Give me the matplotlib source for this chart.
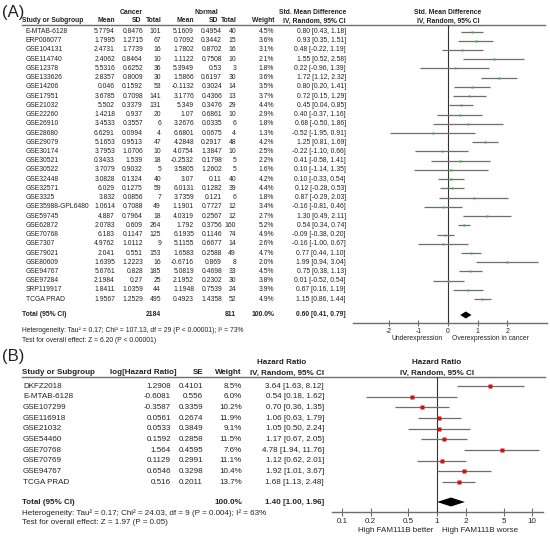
import matplotlib.pyplot as plt
from matplotlib.ticker import NullLocator, FixedLocator, FixedFormatter

plt.rcParams['font.family'] = ['Liberation Sans', 'DejaVu Sans']

# --- panel A data ---
names_a = ['E-MTAB-6128', 'ERP006077', 'GSE104131', 'GSE114740', 'GSE12378', 'GSE133626',
           'GSE14206', 'GSE17951', 'GSE21032', 'GSE22260', 'GSE26910', 'GSE28680',
           'GSE29079', 'GSE30174', 'GSE30521', 'GSE30522', 'GSE32448', 'GSE32571',
           'GSE3325', 'GSE35988-GPL6480', 'GSE59745', 'GSE62872', 'GSE70768', 'GSE7307',
           'GSE79021', 'GSE80609', 'GSE94767', 'GSE97284', 'SRP119917', 'TCGA PRAD']
ca_mean = [5.7794, 1.7995, 2.4731, 2.4062, 5.5316, 2.8357, 0.046, 3.6785, 5.502, 1.4218,
           3.4533, 6.6291, 5.1653, 3.7953, 0.3433, 3.7079, 3.0828, 6.029, 3.832, 1.0614,
           4.887, 2.0783, 6.183, 4.9762, 2.041, 1.6395, 5.6761, 2.1984, 1.8411, 1.9567]
ca_sd = [0.8476, 1.2715, 1.7739, 0.8464, 0.6252, 0.8009, 0.1592, 0.7098, 0.3379, 0.937,
         0.3557, 0.0994, 0.9513, 1.0706, 1.539, 0.9032, 0.1324, 0.1275, 0.0856, 0.7088,
         0.7964, 0.609, 0.1147, 1.0112, 0.551, 1.2223, 0.828, 0.27, 1.0359, 1.2529]
ca_n = [101, 67, 16, 10, 36, 30, 53, 141, 131, 20, 6, 4, 47, 10, 18, 5, 40, 59, 7, 49,
        18, 264, 125, 9, 153, 16, 185, 25, 44, 495]
no_mean = [5.1609, 0.7092, 1.7802, 1.1122, 5.3949, 1.5866, -0.1132, 3.1776, 5.349, 1.07,
           3.2676, 6.6801, 4.2848, 4.0754, -0.2532, 3.5805, 3.07, 6.0131, 3.7359, 1.1901,
           4.0319, 1.792, 6.1935, 5.1155, 1.6583, -0.6716, 5.0819, 2.1952, 1.1948, 0.4923]
no_sd = [0.4954, 0.3442, 0.8702, 0.7508, 0.53, 0.6197, 0.3024, 0.4366, 0.3476, 0.6861,
         0.0335, 0.0675, 0.2917, 1.3847, 0.1798, 1.2602, 0.11, 0.1282, 0.121, 0.7727,
         0.2567, 0.3756, 0.1146, 0.6677, 0.2588, 0.869, 0.4698, 0.2302, 0.7539, 1.4358]
no_n = [40, 15, 16, 10, 3, 30, 14, 13, 29, 10, 6, 4, 48, 10, 5, 5, 40, 39, 6, 12,
        12, 160, 74, 14, 49, 8, 33, 30, 24, 52]
w_a = [4.5, 3.6, 3.1, 2.1, 1.8, 3.6, 3.5, 3.7, 4.4, 2.9, 1.8, 1.3, 4.2, 2.5, 2.2, 1.6,
       4.2, 4.4, 1.8, 3.4, 2.7, 5.2, 4.9, 2.6, 4.7, 2.0, 4.5, 3.8, 3.9, 4.9]
smd = [0.80, 0.93, 0.48, 1.55, 0.22, 1.72, 0.80, 0.72, 0.45, 0.40, 0.68, -0.52, 1.25,
       -0.22, 0.41, 0.10, 0.10, 0.12, 0.87, -0.16, 1.30, 0.54, -0.09, -0.16, 0.77, 1.99,
       0.75, 0.01, 0.67, 1.15]
smd_lo = [0.43, 0.35, -0.22, 0.52, -0.96, 1.12, 0.20, 0.15, 0.04, -0.37, -0.50, -1.95, 0.81,
          -1.10, -0.58, -1.14, -0.33, -0.28, -0.29, -0.81, 0.49, 0.34, -0.38, -1.00, 0.44,
          0.94, 0.38, -0.52, 0.16, 0.86]
smd_hi = [1.18, 1.51, 1.19, 2.58, 1.39, 2.32, 1.41, 1.29, 0.85, 1.16, 1.86, 0.91, 1.69,
          0.66, 1.41, 1.35, 0.54, 0.53, 2.03, 0.46, 2.11, 0.74, 0.20, 0.67, 1.10, 3.04,
          1.13, 0.54, 1.19, 1.44]
tot_a = (0.60, 0.41, 0.79)
tot_n_a = (2184, 811)
het_a = 'Heterogeneity: Tau² = 0.17; Chi² = 107.13, df = 29 (P < 0.00001); I² = 73%'
z_a = 'Test for overall effect: Z = 6.20 (P < 0.00001)'
ticks_a = [-2, -1, 0, 1, 2]

# --- panel B data ---
names_b = ['DKFZ2018', 'E-MTAB-6128', 'GSE107299', 'GSE116918', 'GSE21032', 'GSE54460',
           'GSE70768', 'GSE70769', 'GSE94767', 'TCGA PRAD']
loghr = [1.2908, -0.6081, -0.3587, 0.0561, 0.0533, 0.1592, 1.564, 0.1129, 0.6546, 0.516]
se = [0.4101, 0.556, 0.3359, 0.2674, 0.3849, 0.2858, 0.4595, 0.2991, 0.3298, 0.2011]
w_b = [8.5, 6.0, 10.2, 11.9, 9.1, 11.5, 7.6, 11.1, 10.4, 13.7]
hr = [3.64, 0.54, 0.70, 1.06, 1.05, 1.17, 4.78, 1.12, 1.92, 1.68]
hr_lo = [1.63, 0.18, 0.36, 0.63, 0.50, 0.67, 1.94, 0.62, 1.01, 1.13]
hr_hi = [8.12, 1.62, 1.35, 1.79, 2.24, 2.05, 11.76, 2.01, 3.67, 2.48]
tot_b = (1.40, 1.00, 1.96)
het_b = 'Heterogeneity: Tau² = 0.17; Chi² = 24.03, df = 9 (P = 0.004); I² = 63%'
z_b = 'Test for overall effect: Z = 1.97 (P = 0.05)'
ticks_b = [0.1, 0.2, 0.5, 1, 2, 5, 10]

W, H = 550, 539
TXT = '#222222'
LINE = '#6e6e6e'

fig = plt.figure(figsize=(W / 100, H / 100), dpi=100)
bg = fig.add_axes([0, 0, 1, 1])
bg.set_xlim(0, W)
bg.set_ylim(H, 0)
bg.axis('off')


def px_axes(x0, x1, y0, y1):
    return fig.add_axes([x0 / W, 1 - y1 / H, (x1 - x0) / W, (y1 - y0) / H])


def t(x, y, s, fs, ha='right', bold=False, **kw):
    bg.text(x, y, s, fontsize=fs, ha=ha, va='center', color=TXT,
            fontweight='bold' if bold else 'normal', **kw)


# ================= panel A =================
FA = 4.9
a_y0, a_dy = 31.5, 9.23
a_rows = [a_y0 + i * a_dy for i in range(len(names_a))]
a_tot_y = 315
a_axis_y = 323

t(2, 13, '(A)', 12, ha='left')
t(131, 12, 'Cancer', FA, ha='center', bold=True)
t(206, 12, 'Normal', FA, ha='center', bold=True)
t(313, 12, 'Std. Mean Difference', FA, ha='center', bold=True)
t(448, 12, 'Std. Mean Difference', FA, ha='center', bold=True)
hdr = [(22, 'Study or Subgroup', 'left'), (115, 'Mean', 'right'), (141, 'SD', 'right'),
       (162, 'Total', 'right'), (194, 'Mean', 'right'), (218, 'SD', 'right'),
       (237, 'Total', 'right'), (274, 'Weight', 'right'), (314, 'IV, Random, 95% CI', 'center'),
       (448, 'IV, Random, 95% CI', 'center')]
for x, s, ha in hdr:
    t(x, 21, s, FA, ha=ha, bold=True)
bg.plot([22, 545], [24.5, 24.5], color=LINE, lw=1)

for i, y in enumerate(a_rows):
    t(26, y, names_a[i], FA, ha='left')
    t(115, y, str(ca_mean[i]), FA)
    t(143, y, str(ca_sd[i]), FA)
    t(161, y, str(ca_n[i]), FA)
    t(194, y, str(no_mean[i]), FA)
    t(222, y, str(no_sd[i]), FA)
    t(236, y, str(no_n[i]), FA)
    t(274, y, f'{w_a[i]:.1f}%', FA)
    t(346, y, f'{smd[i]:.2f} [{smd_lo[i]:.2f}, {smd_hi[i]:.2f}]', FA)

t(22, a_tot_y, 'Total (95% CI)', FA, ha='left', bold=True)
t(161, a_tot_y, str(tot_n_a[0]), FA, bold=True)
t(236, a_tot_y, str(tot_n_a[1]), FA, bold=True)
t(274, a_tot_y, '100.0%', FA, bold=True)
t(346, a_tot_y, f'{tot_a[0]:.2f} [{tot_a[1]:.2f}, {tot_a[2]:.2f}]', FA, bold=True)
t(22, 330, het_a, FA, ha='left')
t(22, 340, z_a, FA, ha='left')
t(443, 339, 'Underexpression', FA, ha='right')
t(452, 339, 'Overexpression in cancer', FA, ha='left')

axa = px_axes(353, 547, 24.5, a_axis_y)
axa.set_xlim(-3.21, 3.34)
axa.set_ylim(a_axis_y, 24.5)
axa.patch.set_alpha(0)
for sp in ['top', 'left', 'right']:
    axa.spines[sp].set_visible(False)
axa.spines['bottom'].set_color(LINE)
axa.spines['bottom'].set_linewidth(1)
axa.set_yticks([])
axa.set_xticks(ticks_a)
axa.set_xticklabels([str(v) for v in ticks_a])
axa.tick_params(axis='x', direction='inout', length=5, width=0.8, color=LINE,
                labelsize=FA, labelcolor=TXT, pad=1)
axa.axvline(0, color='#333333', lw=0.8)
axa.hlines(a_rows, smd_lo, smd_hi, color=LINE, lw=0.9)
axa.plot(smd, a_rows, 's', color='#33bb33', ms=1.6, mec='none')
dh = 3.5
axa.fill([tot_a[1], tot_a[0], tot_a[2], tot_a[0]],
         [a_tot_y, a_tot_y - dh, a_tot_y, a_tot_y + dh], color='black', lw=0)

# ================= panel B =================
FB = 5.8
b_y0, b_dy = 386, 10.67
b_rows = [b_y0 + i * b_dy for i in range(len(names_b))]
b_tot_y = 502
b_axis_y = 512

t(2, 356, '(B)', 12, ha='left')
t(282, 362, 'Hazard Ratio', FB, ha='center', bold=True)
t(437, 362, 'Hazard Ratio', FB, ha='center', bold=True)
for x, s, ha in [(22, 'Study or Subgroup', 'left'), (177, 'log[Hazard Ratio]', 'right'),
                 (203, 'SE', 'right'), (242, 'Weight', 'right'),
                 (287, 'IV, Random, 95% CI', 'center'), (437, 'IV, Random, 95% CI', 'center')]:
    t(x, 373, s, FB, ha=ha, bold=True)
bg.plot([22, 545], [376.5, 376.5], color=LINE, lw=1)

for i, y in enumerate(b_rows):
    t(23, y, names_b[i], FB, ha='left')
    t(171, y, str(loghr[i]), FB)
    t(203, y, str(se[i]), FB)
    t(242, y, f'{w_b[i]:.1f}%', FB)
    t(324, y, f'{hr[i]:.2f} [{hr_lo[i]:.2f}, {hr_hi[i]:.2f}]', FB)

t(22, b_tot_y, 'Total (95% CI)', FB, ha='left', bold=True)
t(242, b_tot_y, '100.0%', FB, bold=True)
t(324, b_tot_y, f'{tot_b[0]:.2f} [{tot_b[1]:.2f}, {tot_b[2]:.2f}]', FB, bold=True)
t(22, 513, het_b, FB, ha='left')
t(22, 523, z_b, FB, ha='left')
t(433, 530, 'High FAM111B better', FB, ha='right')
t(442, 530, 'High FAM111B worse', FB, ha='left')

axb = px_axes(332, 543, 376.5, b_axis_y)
axb.set_xscale('log')
axb.set_xlim(0.0785, 13.0)
axb.set_ylim(b_axis_y, 376.5)
axb.patch.set_alpha(0)
for sp in ['top', 'left', 'right']:
    axb.spines[sp].set_visible(False)
axb.spines['bottom'].set_color(LINE)
axb.spines['bottom'].set_linewidth(1)
axb.set_yticks([])
axb.xaxis.set_major_locator(FixedLocator(ticks_b))
axb.xaxis.set_major_formatter(FixedFormatter([f'{v:g}' for v in ticks_b]))
axb.xaxis.set_minor_locator(NullLocator())
axb.tick_params(axis='x', direction='inout', length=6, width=0.8, color=LINE,
                labelsize=FB, labelcolor=TXT, pad=1.5)
axb.axvline(1, color='#333333', lw=0.8)
axb.hlines(b_rows, hr_lo, hr_hi, color=LINE, lw=0.9)
axb.plot(hr, b_rows, 's', color='#cc1111', ms=2.4, mec='none')
dh = 4.5
axb.fill([tot_b[1], tot_b[0], tot_b[2], tot_b[0]],
         [b_tot_y, b_tot_y - dh, b_tot_y, b_tot_y + dh], color='black', lw=0)

fig.savefig('out.png', dpi=100)
